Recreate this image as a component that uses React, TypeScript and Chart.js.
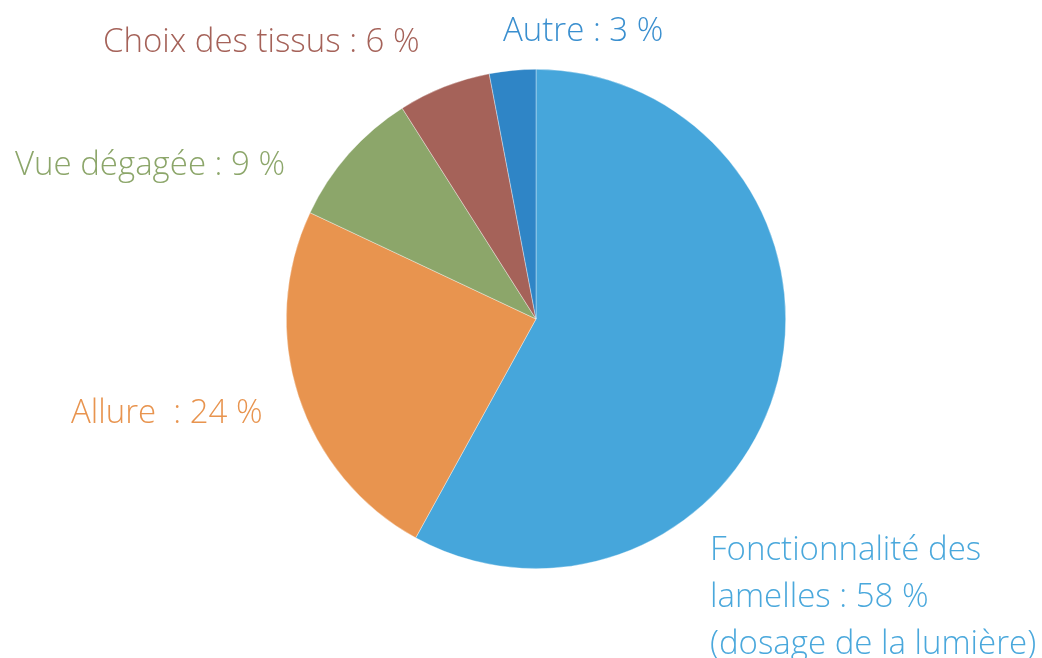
import React, { useEffect, useRef } from "react";
import { Chart, registerables } from "chart.js";

Chart.register(...registerables);

const categories = [
  "Fonctionnalité des lamelles (dosage de la lumière)",
  "Allure",
  "Vue dégagée",
  "Choix des tissus",
  "Autre",
];
const values = [58, 24, 9, 6, 3];
const sliceColors = ["#46A6DB", "#E8944F", "#8CA66A", "#A56259", "#2F85C6"];
const labelColors = ["#4AA8DC", "#E8944F", "#8CA66A", "#A56259", "#3A8FCF"];
const labelLines = [
  ["Fonctionnalité des", "lamelles : 58 %", "(dosage de la lumière)"],
  ["Allure  : 24 %"],
  ["Vue dégagée : 9 %"],
  ["Choix des tissus : 6 %"],
  ["Autre : 3 %"],
];
// label anchor (left x, first-line baseline y) in canvas pixels
const labelPos = [
  [710, 560],
  [71, 423],
  [15, 175],
  [103, 52],
  [503, 41],
];

const FONT = "300 33px 'Open Sans', 'Noto Sans', sans-serif";

const labelPlugin = {
  id: "outerLabels",
  afterDraw(chart: any) {
    const ctx = chart.ctx;
    ctx.save();
    ctx.font = FONT;
    ctx.textAlign = "left";
    ctx.textBaseline = "alphabetic";
    labelLines.forEach((lines, i) => {
      ctx.fillStyle = labelColors[i];
      lines.forEach((ln, j) => {
        ctx.fillText(ln, labelPos[i][0], labelPos[i][1] + j * 47);
      });
    });
    ctx.restore();
  },
};

export default function App() {
  const ref = useRef<HTMLCanvasElement>(null);
  useEffect(() => {
    document.body.style.margin = "0";
    const chart = new Chart(ref.current!, {
      type: "pie",
      data: {
        labels: categories,
        datasets: [
          {
            data: values,
            backgroundColor: sliceColors,
            borderColor: "rgba(255,255,255,0.6)",
            borderWidth: 0.6,
          },
        ],
      },
      options: {
        responsive: false,
        animation: false,
        layout: { padding: { top: 69, bottom: 89, left: 286, right: 256 } },
        plugins: {
          legend: { display: false },
          tooltip: { enabled: false },
        },
      },
      plugins: [labelPlugin],
    });
    return () => chart.destroy();
  }, []);
  return (
    <div style={{ width: 1042, height: 658, background: "#fff" }}>
      <canvas ref={ref} width={1042} height={658} />
    </div>
  );
}
